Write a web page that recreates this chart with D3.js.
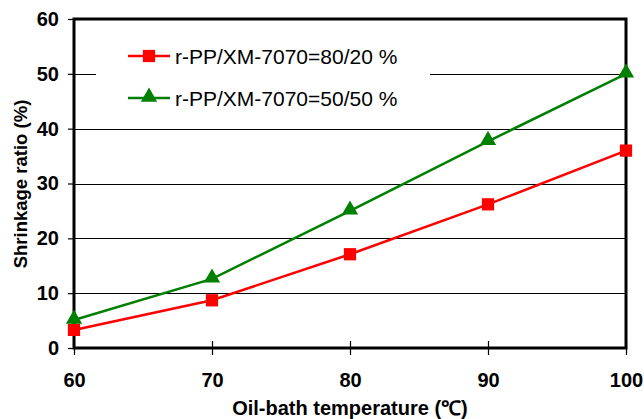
<!DOCTYPE html>
<html><head><meta charset="utf-8">
<script src="https://cdn.jsdelivr.net/npm/d3@7"></script>
<style>body{margin:0;background:#fff}svg{display:block;font-family:"Liberation Sans",Arial,sans-serif}</style>
</head><body><svg id="c" width="644" height="419"></svg>
<script>
const temps = [60, 70, 80, 90, 100];
const series80_20 = [3.3, 8.7, 17.1, 26.2, 36.0];
const series50_50 = [5.1, 12.6, 25.0, 37.7, 50.0];
const seriesNames = ["r-PP/XM-7070=80/20 %", "r-PP/XM-7070=50/50 %"];
const yTicks = [0, 10, 20, 30, 40, 50, 60];
const xTicks = [60, 70, 80, 90, 100];

const svg = d3.select("#c");
const L = 74, R = 626, T = 19, B = 348;
const x = d3.scaleLinear().domain([60, 100]).range([L, R]);
const y = d3.scaleLinear().domain([0, 60]).range([B, T]);
const FF = "Liberation Sans, Arial, sans-serif";

// gridlines
svg.append("g").selectAll("line").data(yTicks.filter(d => d > 0 && d < 60)).join("line")
  .attr("x1", L).attr("x2", R).attr("y1", d => Math.round(y(d)) + 0.5).attr("y2", d => Math.round(y(d)) + 0.5)
  .attr("stroke", "#000").attr("stroke-width", 1);

// legend background
svg.append("rect").attr("x", 96).attr("y", 36).attr("width", 334).attr("height", 84).attr("fill", "#fff");

// y axis ticks
const ya = svg.append("g").attr("transform", `translate(${L},0)`)
  .call(d3.axisLeft(y).tickValues(yTicks).tickSize(6).tickPadding(9));
ya.select(".domain").remove();
ya.selectAll("line").attr("stroke", "#000").attr("stroke-width", 1.2);
ya.selectAll("text").attr("font-size", 20).attr("font-weight", "bold").attr("fill", "#000")
  .attr("font-family", FF);

// x axis ticks (cross)
const xa = svg.append("g").attr("transform", `translate(0,${B})`)
  .call(d3.axisBottom(x).tickValues(xTicks).tickSize(7));
xa.select(".domain").remove();
xa.selectAll("line").attr("y1", -7).attr("stroke", "#000").attr("stroke-width", 1.2);
xa.selectAll("text").attr("y", 39).attr("dy", 0).attr("font-size", 20).attr("font-weight", "bold")
  .attr("fill", "#000").attr("font-family", FF);

// frame
svg.append("rect").attr("x", L).attr("y", T).attr("width", R - L).attr("height", B - T)
  .attr("fill", "none").attr("stroke", "#000").attr("stroke-width", 3);

// series
const line = d3.line().x((d, i) => x(temps[i])).y(d => y(d));
const colors = ["#ff0000", "#008000"];
[series80_20, series50_50].forEach((s, k) => {
  svg.append("path").datum(s).attr("d", line).attr("fill", "none")
    .attr("stroke", colors[k]).attr("stroke-width", 2.5);
});
const sq = d3.symbol().type(d3.symbolSquare).size(150);
const tri = d3.symbol().type(d3.symbolTriangle).size(115);
svg.append("g").selectAll("path").data(series80_20).join("path")
  .attr("d", sq).attr("transform", (d, i) => `translate(${x(temps[i])},${y(d)})`).attr("fill", colors[0]);
svg.append("g").selectAll("path").data(series50_50).join("path")
  .attr("d", tri).attr("transform", (d, i) => `translate(${x(temps[i])},${y(d) - 1})`).attr("fill", colors[1]);

// legend
const legY = [56, 98];
seriesNames.forEach((n, k) => {
  const g = svg.append("g");
  g.append("line").attr("x1", 128).attr("x2", 170).attr("y1", legY[k]).attr("y2", legY[k])
    .attr("stroke", colors[k]).attr("stroke-width", 2.5);
  g.append("path").attr("d", k === 0 ? sq : tri)
    .attr("transform", `translate(149,${legY[k] - (k ? 1 : 0)})`).attr("fill", colors[k]);
  g.append("text").attr("x", 175).attr("y", legY[k] + 7.5)
    .attr("font-size", 21).text(n);
});

// axis titles
svg.append("text").attr("x", 350).attr("y", 415).attr("text-anchor", "middle")
  .attr("font-size", 20).attr("font-weight", "bold").text("Oil-bath temperature (℃)");
svg.append("text").attr("transform", `translate(27,184) rotate(-90)`)
  .attr("text-anchor", "middle").attr("font-size", 18.5).attr("font-weight", "bold").text("Shrinkage ratio (%)");
</script></body></html>
